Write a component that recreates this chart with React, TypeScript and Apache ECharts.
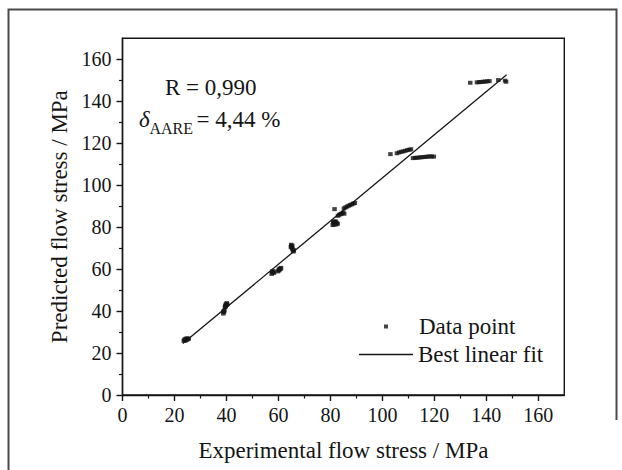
import React, { useEffect, useRef } from "react";
import * as echarts from "echarts";

// Experimental vs predicted flow stress (MPa)
const experimentalStress = [
  23.6, 24.0, 24.4, 24.8, 25.2, 25.5, 24.2, 24.6, 23.9,
  38.8, 39.0, 39.2, 39.4, 39.6, 39.8, 40.1, 40.3, 39.7, 38.9, 40.0,
  57.4, 57.8, 58.1, 58.3, 59.8, 60.3, 60.8, 61.0, 60.5, 57.6, 60.1,
  64.9, 65.0, 65.2, 65.4, 65.6, 65.8, 65.3, 65.9, 64.8,
  80.9, 81.2, 81.6, 82.0, 82.4, 82.8, 81.5, 81.1, 82.2,
  81.6,
  82.9, 83.4, 83.9, 84.4, 84.9, 85.3,
  85.2, 85.8, 86.4, 87.0, 87.6, 88.2, 88.8, 89.4,
  103.1, 105.6, 106.4, 107.2, 108.0, 108.8, 109.6, 110.4, 111.0,
  111.8, 112.6, 113.4, 114.2, 115.0, 115.8, 116.6, 117.4, 118.2, 119.0, 119.8,
  133.8, 136.4, 137.2, 138.0, 138.8, 139.6, 140.4, 141.2, 144.6, 147.2, 147.6,
];
const predictedStress = [
  25.8, 26.3, 26.8, 27.0, 26.6, 26.9, 25.9, 26.2, 26.5,
  38.8, 39.5, 40.2, 41.8, 42.6, 43.3, 43.8, 43.2, 42.2, 39.9, 42.9,
  57.7, 58.4, 59.0, 58.2, 58.9, 59.4, 60.0, 60.6, 60.3, 58.9, 59.8,
  71.6, 70.9, 70.2, 69.5, 68.9, 68.4, 71.2, 69.0, 70.5,
  81.0, 81.8, 82.4, 82.8, 82.1, 81.6, 81.2, 82.6, 81.3,
  88.6,
  85.4, 85.9, 86.2, 86.5, 86.9, 86.4,
  88.9, 89.4, 89.8, 90.2, 90.5, 90.9, 91.2, 91.5,
  114.8, 115.2, 115.6, 115.9, 116.1, 116.4, 116.7, 116.9, 117.1,
  112.9, 113.0, 113.1, 113.2, 113.3, 113.4, 113.5, 113.6, 113.7, 113.7, 113.6,
  148.8, 149.0, 149.1, 149.2, 149.3, 149.4, 149.5, 149.6, 150.1, 149.8, 149.3,
];

// Best linear fit end points
const fitX = [23.2, 147.8];
const fitY = [24.5, 152.6];

// Axis ticks
const majorTicks = [0, 20, 40, 60, 80, 100, 120, 140, 160];
const minorTicks = [10, 30, 50, 70, 90, 110, 130, 150];

const seriesNames = ["Data point", "Best linear fit"];
const xTitle = "Experimental flow stress / MPa";
const yTitle = "Predicted flow stress / MPa";

const FONT = "'Liberation Serif', 'Times New Roman', serif";
const TEXT = "#151515";
const INK = "#151515";

export default function App() {
  const ref = useRef<HTMLDivElement>(null);

  useEffect(() => {
    if (!ref.current) return;
    const chart = echarts.init(ref.current, undefined, { renderer: "svg" });

    const scatterData = experimentalStress.map((x, i) => [x, predictedStress[i]]);
    const fitData = fitX.map((x, i) => [x, fitY[i]]);

    const mainAxisCommon = {
      min: 0,
      max: 170,
      interval: 20,
      axisLine: { show: true, lineStyle: { color: INK, width: 1.4 } },
      axisTick: {
        show: true,
        inside: false,
        length: 6,
        customValues: majorTicks,
        lineStyle: { color: INK, width: 1.4 },
      },
      axisLabel: {
        show: true,
        customValues: majorTicks,
        color: TEXT,
        fontFamily: FONT,
        fontSize: 20,
      },
      splitLine: { show: false },
      nameLocation: "middle" as const,
      nameTextStyle: { color: TEXT, fontFamily: FONT, fontSize: 23 },
    };

    const minorAxisCommon = {
      min: 0,
      max: 170,
      interval: 10,
      axisLine: { show: false },
      axisTick: {
        show: true,
        inside: false,
        length: 3.5,
        customValues: minorTicks,
        lineStyle: { color: INK, width: 1.2 },
      },
      axisLabel: { show: false },
      splitLine: { show: false },
    };

    chart.setOption({
      animation: false,
      backgroundColor: "#ffffff",
      grid: {
        left: 122.5,
        right: 57.7,
        top: 38.3,
        bottom: 75,
        show: true,
        borderColor: INK,
        borderWidth: 1.4,
        backgroundColor: "transparent",
      },
      xAxis: [
        {
          type: "value",
          position: "bottom",
          ...mainAxisCommon,
          axisLabel: { ...mainAxisCommon.axisLabel, margin: 10 },
          name: xTitle,
          nameGap: 44,
        },
        { type: "value", position: "bottom", ...minorAxisCommon },
      ],
      yAxis: [
        {
          type: "value",
          position: "left",
          ...mainAxisCommon,
          axisLabel: { ...mainAxisCommon.axisLabel, margin: 11 },
          name: yTitle,
          nameGap: 37,
        },
        { type: "value", position: "left", ...minorAxisCommon },
      ],
      legend: [
        {
          data: [{ name: seriesNames[0], icon: "rect" }],
          left: 384,
          top: 315,
          padding: 0,
          itemWidth: 4,
          itemHeight: 4,
          selectedMode: false,
          textStyle: {
            color: TEXT,
            fontFamily: FONT,
            fontSize: 23,
            padding: [0, 0, 0, 26],
          },
        },
        {
          data: [{ name: seriesNames[1], icon: "rect" }],
          left: 359,
          top: 343,
          padding: 0,
          itemWidth: 54,
          itemHeight: 1.3,
          selectedMode: false,
          textStyle: { color: TEXT, fontFamily: FONT, fontSize: 23 },
        },
      ],
      series: [
        {
          name: seriesNames[0],
          type: "scatter",
          xAxisIndex: 0,
          yAxisIndex: 0,
          symbol: "rect",
          symbolSize: [4.5, 4],
          itemStyle: { color: INK },
          data: scatterData,
          z: 3,
        },
        {
          name: seriesNames[1],
          type: "line",
          xAxisIndex: 0,
          yAxisIndex: 0,
          symbol: "none",
          showSymbol: false,
          lineStyle: { color: INK, width: 1.3 },
          itemStyle: { color: INK },
          data: fitData,
          z: 2,
        },
      ],
      graphic: [
        {
          type: "polyline",
          silent: true,
          shape: {
            points: [
              [8.5, 470],
              [8.5, 9.5],
              [616.5, 9.5],
              [616.5, 420],
            ],
          },
          style: { stroke: "#4a4a4a", lineWidth: 2, fill: "none" },
        },
        {
          type: "text",
          x: 165,
          y: 87.5,
          style: {
            text: "R = 0,990",
            fill: TEXT,
            font: `23px ${FONT}`,
            align: "left",
            verticalAlign: "middle",
          },
        },
        {
          type: "text",
          x: 139,
          y: 119.5,
          style: {
            text: "δ",
            fill: TEXT,
            font: `italic 23px ${FONT}`,
            align: "left",
            verticalAlign: "middle",
          },
        },
        {
          type: "text",
          x: 149.5,
          y: 128.6,
          style: {
            text: "AARE",
            fill: TEXT,
            font: `16px ${FONT}`,
            align: "left",
            verticalAlign: "middle",
          },
        },
        {
          type: "text",
          x: 196.5,
          y: 119.5,
          style: {
            text: "= 4,44 %",
            fill: TEXT,
            font: `23px ${FONT}`,
            align: "left",
            verticalAlign: "middle",
          },
        },
      ],
    });

    return () => chart.dispose();
  }, []);

  return (
    <div
      ref={ref}
      style={{ position: "fixed", left: 0, top: 0, width: 622, height: 470, background: "#fff" }}
    />
  );
}
